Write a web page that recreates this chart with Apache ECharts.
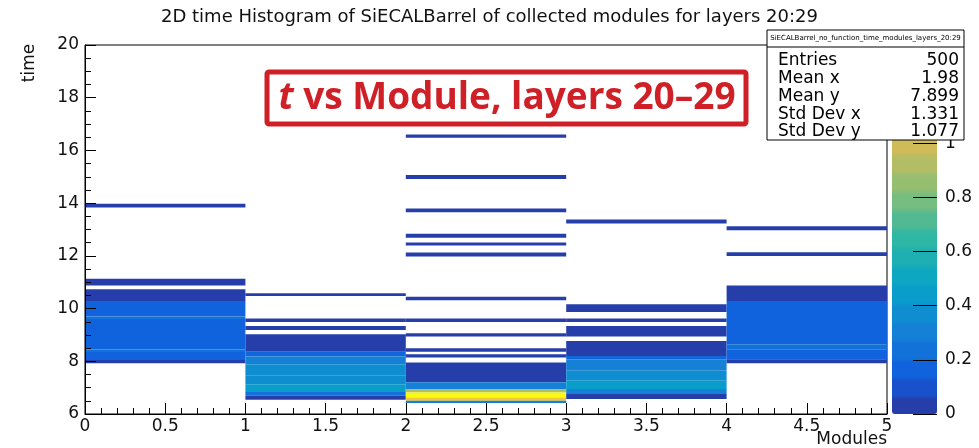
<!DOCTYPE html>
<html>
<head>
<meta charset="utf-8">
<script src="https://cdn.jsdelivr.net/npm/echarts@6/dist/echarts.min.js"></script>
<style>
html,body{margin:0;padding:0;background:#fff;}
#chart{width:979px;height:448px;}
</style>
</head>
<body>
<div id="chart"></div>
<script>
// ---- data ----
const moduleEdges = [0, 1, 2, 3, 4, 5];
// each bin: [tLow, tHigh, content]
const module0Bins = [
  [13.83, 13.98, 0.03],
  [10.88, 11.13, 0.03],
  [10.29, 10.73, 0.04],
  [9.70, 10.29, 0.19],
  [9.60, 9.70, 0.22],
  [8.45, 9.60, 0.19],
  [8.35, 8.45, 0.22],
  [8.05, 8.35, 0.19],
  [7.93, 8.05, 0.05]
];
const module1Bins = [
  [10.48, 10.58, 0.03],
  [9.49, 9.62, 0.03],
  [9.19, 9.34, 0.03],
  [8.36, 9.03, 0.04],
  [8.18, 8.36, 0.20],
  [7.89, 8.18, 0.30],
  [7.45, 7.89, 0.38],
  [7.13, 7.45, 0.35],
  [6.83, 7.13, 0.42],
  [6.69, 6.83, 0.22],
  [6.54, 6.69, 0.05]
];
const module2Bins = [
  [16.48, 16.60, 0.03],
  [14.92, 15.07, 0.03],
  [13.65, 13.80, 0.03],
  [12.69, 12.84, 0.03],
  [12.39, 12.51, 0.03],
  [11.98, 12.13, 0.03],
  [10.32, 10.45, 0.03],
  [9.49, 9.62, 0.03],
  [8.94, 9.06, 0.03],
  [8.36, 8.49, 0.03],
  [8.14, 8.27, 0.03],
  [7.20, 7.95, 0.04],
  [6.95, 7.20, 0.30],
  [6.82, 6.95, 0.90],
  [6.63, 6.82, 1.32],
  [6.50, 6.63, 1.15],
  [6.42, 6.50, 0.30]
];
const module3Bins = [
  [13.23, 13.38, 0.03],
  [9.87, 10.16, 0.04],
  [9.49, 9.62, 0.03],
  [8.94, 9.34, 0.04],
  [8.20, 8.77, 0.04],
  [8.08, 8.20, 0.20],
  [7.64, 8.08, 0.30],
  [7.26, 7.64, 0.40],
  [6.95, 7.26, 0.45],
  [6.76, 6.95, 0.30],
  [6.57, 6.76, 0.05]
];
const module4Bins = [
  [12.97, 13.12, 0.03],
  [11.99, 12.14, 0.03],
  [10.29, 10.88, 0.04],
  [8.65, 10.29, 0.19],
  [8.46, 8.65, 0.22],
  [8.08, 8.46, 0.19],
  [7.93, 8.08, 0.05]
];
const allModuleBins = [module0Bins, module1Bins, module2Bins, module3Bins, module4Bins];
const zMax = 1.363;
const zLabelMax = 1;
const xTicks = {min: 0, max: 5, interval: 0.5};
const yTicks = {min: 6, max: 20, interval: 2};
const statsRows = [["Entries", "500"], ["Mean x", "1.98"], ["Mean y", "7.899"], ["Std Dev x", "1.331"], ["Std Dev y", "1.077"]];

// ---- palette (ROOT kBird, 20 contour levels) ----
const birdStops = [0, 0.125, 0.25, 0.375, 0.5, 0.625, 0.75, 0.875, 1];
const birdR = [0.2082, 0.0592, 0.0780, 0.0232, 0.1802, 0.5301, 0.8186, 0.9956, 0.9764];
const birdG = [0.1664, 0.3599, 0.5041, 0.6419, 0.7178, 0.7492, 0.7328, 0.7862, 0.9832];
const birdB = [0.5293, 0.8684, 0.8385, 0.7914, 0.6425, 0.4662, 0.3499, 0.1968, 0.0539];
function bird(f) {
  f = Math.max(0, Math.min(1, f));
  let i = 0;
  while (i < birdStops.length - 2 && f > birdStops[i + 1]) i++;
  const t = (f - birdStops[i]) / (birdStops[i + 1] - birdStops[i]);
  const c = a => Math.round(255 * (a[i] + (a[i + 1] - a[i]) * t));
  return 'rgb(' + c(birdR) + ',' + c(birdG) + ',' + c(birdB) + ')';
}
const nLevels = 20;
const stepColors = [];
for (let i = 0; i < nLevels; i++) {
  const col = bird((i + 0.99) / nLevels);
  for (let r = 0; r < 10; r++) stepColors.push(col);
}

// ---- build series data ----
const cells = [];
allModuleBins.forEach((bins, m) => {
  bins.forEach(b => cells.push([moduleEdges[m], moduleEdges[m + 1], b[0], b[1], b[2]]));
});

const FONT = 'DejaVu Sans';
const chart = echarts.init(document.getElementById('chart'), null, {renderer: 'canvas'});

const PLOT = {left: 85, top: 45, width: 802, height: 369};
const CBAR = {left: 892, top: 45, width: 45, height: 369};
// axis grid for the colour scale: its left edge sits on the bar's right edge
const ZAXIS = {left: 937, top: 45, width: 10, height: 369};

const statsGraphics = [];
const SB = {x: 767, y: 30, w: 197, h: 110};
statsGraphics.push({type: 'rect', z: 100, shape: {x: SB.x, y: SB.y, width: SB.w, height: SB.h},
  style: {fill: '#fff', stroke: '#000', lineWidth: 1}});
statsGraphics.push({type: 'line', z: 101, shape: {x1: SB.x, y1: SB.y + 17, x2: SB.x + SB.w, y2: SB.y + 17},
  style: {stroke: '#000', lineWidth: 1}});
statsGraphics.push({type: 'text', z: 101, x: SB.x + SB.w / 2, y: SB.y + 8.5,
  style: {text: 'SiECALBarrel_no_function_time_modules_layers_20:29', font: '7px ' + FONT, fill: '#000',
    textAlign: 'center', textVerticalAlign: 'middle'}});
statsRows.forEach((r, i) => {
  const yy = SB.y + 31 + i * 17.7;
  statsGraphics.push({type: 'text', z: 101, x: SB.x + 11, y: yy,
    style: {text: r[0], font: '17px ' + FONT, fill: '#000', textAlign: 'left', textVerticalAlign: 'middle'}});
  statsGraphics.push({type: 'text', z: 101, x: SB.x + SB.w - 5, y: yy,
    style: {text: r[1], font: '17px ' + FONT, fill: '#000', textAlign: 'right', textVerticalAlign: 'middle'}});
});

const option = {
  backgroundColor: '#fff',
  animation: false,
  title: {
    text: '2D time Histogram of SiECALBarrel of collected modules for layers 20:29',
    left: 'center', top: 3,
    textStyle: {fontFamily: FONT, fontSize: 18, fontWeight: 'normal', color: '#111'}
  },
  grid: [
    Object.assign({show: true, borderColor: '#000', borderWidth: 1, backgroundColor: 'transparent',
      containLabel: false, outerBoundsMode: 'none'}, PLOT),
    Object.assign({show: false, containLabel: false, outerBoundsMode: 'none'}, ZAXIS)
  ],
  xAxis: [{
    type: 'value', gridIndex: 0, min: xTicks.min, max: xTicks.max, interval: xTicks.interval, z: 5,
    axisLine: {show: true, lineStyle: {color: '#000', width: 1}},
    axisTick: {show: true, inside: true, length: 11, lineStyle: {color: '#000'}},
    minorTick: {show: true, splitNumber: 5, length: 6, lineStyle: {color: '#000'}},
    splitLine: {show: false},
    axisLabel: {color: '#111', fontFamily: FONT, fontSize: 17, margin: 4}
  }, {
    type: 'value', gridIndex: 1, show: false, min: 0, max: 1
  }],
  yAxis: [{
    type: 'value', gridIndex: 0, min: yTicks.min, max: yTicks.max, interval: yTicks.interval, z: 5,
    axisLine: {show: true, lineStyle: {color: '#000', width: 1}},
    axisTick: {show: true, inside: true, length: 11, lineStyle: {color: '#000'}},
    minorTick: {show: true, splitNumber: 4, length: 6, lineStyle: {color: '#000'}},
    splitLine: {show: false},
    axisLabel: {color: '#111', fontFamily: FONT, fontSize: 17, margin: 6}
  }, {
    type: 'value', gridIndex: 1, position: 'left', min: 0, max: zMax, interval: 0.2, z: 50,
    axisLine: {show: false},
    axisTick: {show: true, inside: false, length: 24, lineStyle: {color: '#000'}},
    splitLine: {show: false},
    axisLabel: {inside: true, color: '#111', fontFamily: FONT, fontSize: 17, margin: 8, showMaxLabel: false,
      formatter: v => (v > zLabelMax + 1e-6 ? '' : String(+v.toFixed(1)))}
  }],
  visualMap: {
    type: 'continuous', min: 0, max: zMax, dimension: 4, seriesIndex: 0, z: 3,
    calculable: false, realtime: false, hoverLink: false,
    orient: 'vertical', left: CBAR.left, top: CBAR.top, padding: 0,
    itemWidth: CBAR.width, itemHeight: CBAR.height,
    text: null, showLabel: false,
    inRange: {color: stepColors}
  },
  series: [{
    type: 'custom', xAxisIndex: 0, yAxisIndex: 0, z: 2,
    encode: {x: [0, 1], y: [2, 3]},
    data: cells,
    renderItem: function (params, api) {
      const p0 = api.coord([api.value(0), api.value(3)]);
      const p1 = api.coord([api.value(1), api.value(2)]);
      return {type: 'rect', shape: {x: p0[0], y: p0[1], width: p1[0] - p0[0], height: p1[1] - p0[1]},
        style: {fill: api.visual('color')}};
    }
  }],
  graphic: [
    {type: 'text', x: 30, y: 63, rotation: Math.PI / 2,
      style: {text: 'time', font: '17px ' + FONT, fill: '#111', textAlign: 'center', textVerticalAlign: 'middle'}},
    {type: 'text', x: 887, y: 440,
      style: {text: 'Modules', font: '17px ' + FONT, fill: '#111', textAlign: 'right', textVerticalAlign: 'middle'}},
    {type: 'rect', z: 100, shape: {x: 267, y: 72, width: 479, height: 52, r: 2},
      style: {fill: '#fff', stroke: '#cf2027', lineWidth: 5}},
    {type: 'text', z: 101, x: 507, y: 98,
      style: {rich: {it: {font: 'italic bold 37px "Open Sans"', fill: '#cf2027'},
                     b: {font: 'bold 37px "Open Sans"', fill: '#cf2027'}},
              text: '{it|t}{b| vs Module, layers 20–29}', textAlign: 'center', textVerticalAlign: 'middle'}}
  ].concat(statsGraphics)
};
chart.setOption(option);
</script>
</body>
</html>
